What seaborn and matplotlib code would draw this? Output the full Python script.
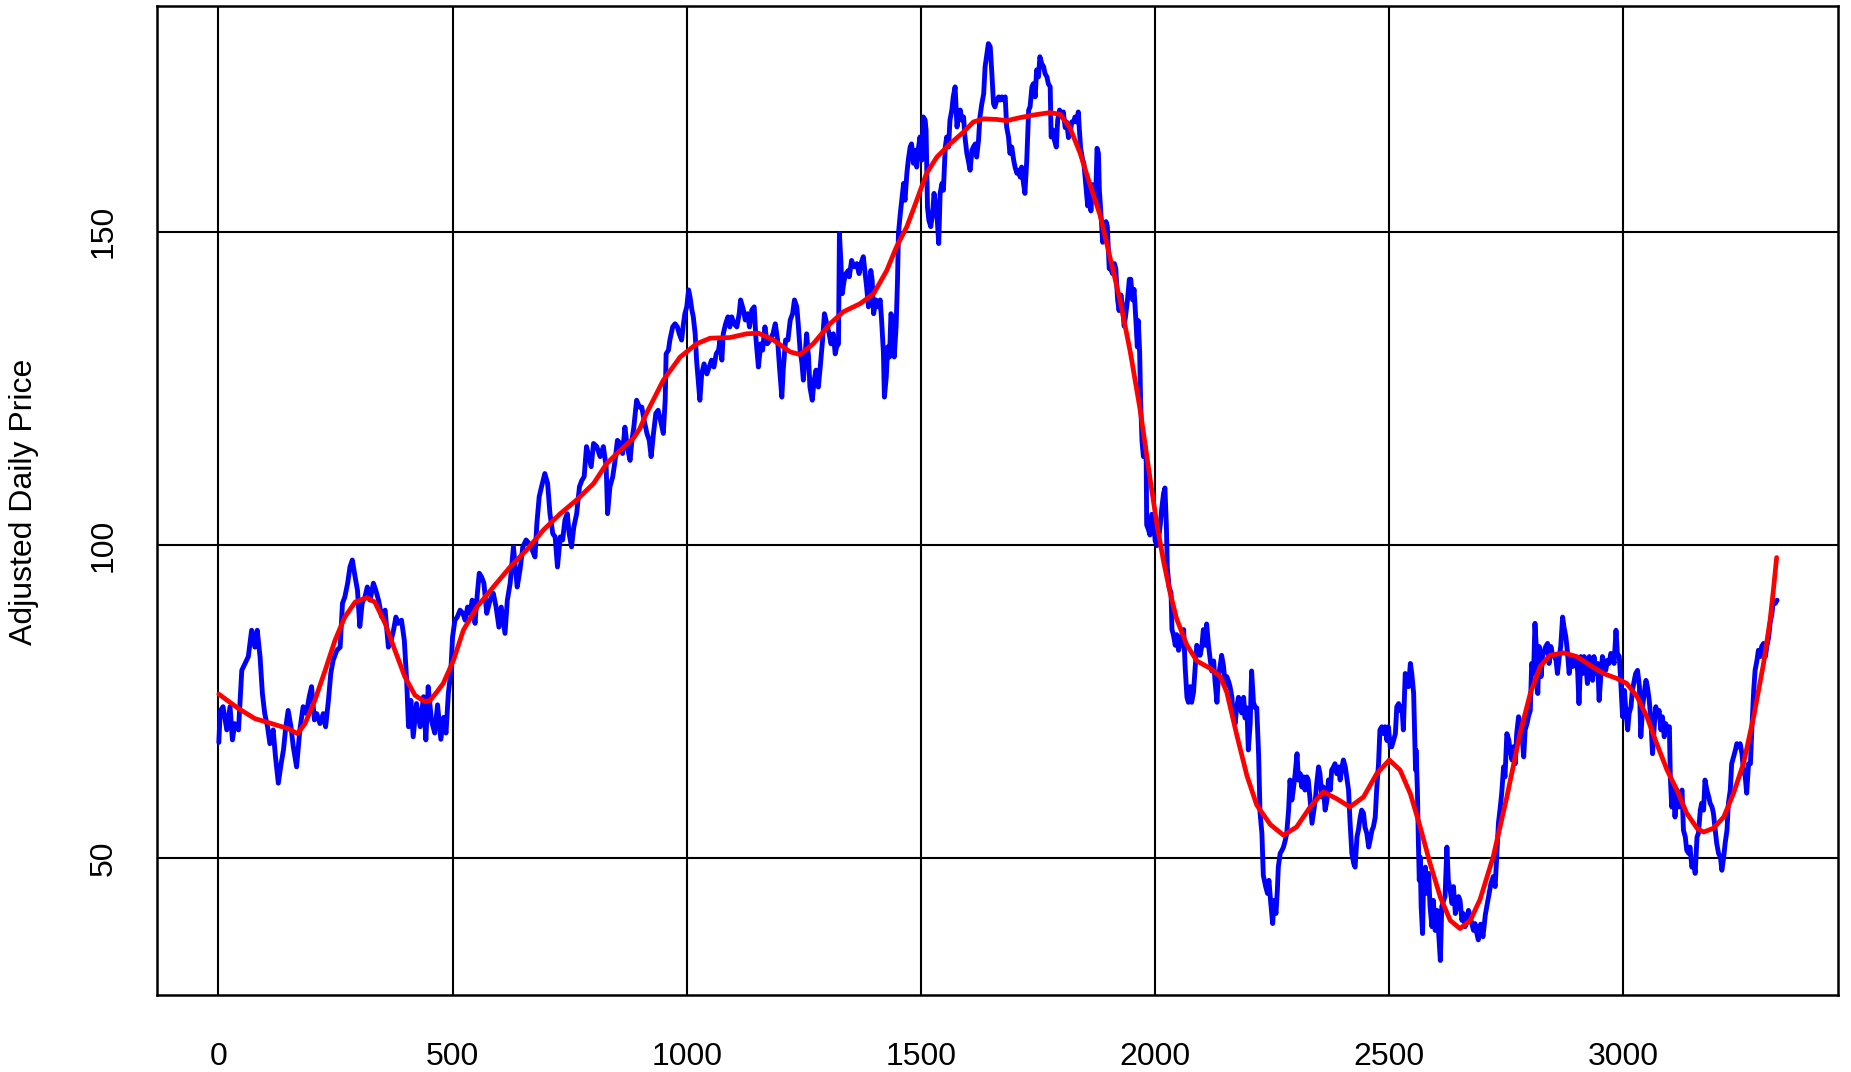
import matplotlib
matplotlib.use("Agg")
import matplotlib.pyplot as plt
import seaborn as sns
import pandas as pd

sns.set_theme(style="white")
plt.rcParams["font.family"] = ["Liberation Sans", "DejaVu Sans"]

# Adjusted daily closing price: (trading day, price)
price_early = [
    (1, 68.5), (4, 73.5), (10, 74.2), (18, 70.5), (25, 74.2), (30, 68.9), (35, 71.5), (43, 70.5),
    (50, 80.0), (57, 81.1), (64, 82.2), (71, 86.4), (78, 83.7), (83, 86.4), (89, 82.2), (94, 76.3),
    (99, 73.1), (105, 71.0), (110, 68.3), (117, 70.5), (122, 66.2), (128, 62.0), (134, 65.1),
    (139, 67.3), (144, 71.0), (149, 73.6), (155, 71.0), (160, 67.8), (167, 64.6), (174, 70.5),
    (181, 74.2), (188, 73.1), (194, 75.8), (199, 77.4), (205, 72.1), (210, 73.1), (217, 71.5),
    (224, 73.1), (229, 71.0), (235, 75.2), (240, 79.5), (245, 81.6), (253, 83.2), (260, 83.7),
    (265, 90.7), (270, 91.7), (276, 93.9), (281, 96.5), (286, 97.6), (292, 94.9), (297, 92.8),
    (302, 87.0), (307, 90.7), (313, 91.7), (318, 93.3), (324, 91.2), (331, 93.9), (336, 92.8),
    (342, 91.2), (349, 88.5), (356, 89.6), (363, 83.7), (369, 84.8), (374, 86.4), (379, 88.5),
    (384, 87.5), (391, 88.0), (397, 84.8), (402, 78.4), (406, 71.0), (411, 75.2), (416, 69.4),
    (423, 74.7), (431, 71.0), (438, 75.8), (443, 68.9), (448, 77.4), (455, 72.0), (462, 70.0),
    (468, 74.5), (475, 69.0), (481, 72.5), (486, 70.0), (491, 76.3), (496, 79.5), (500, 85.3),
    (505, 88.0), (510, 88.5), (516, 89.6), (522, 89.1), (527, 88.0), (532, 90.1), (537, 89.1),
    (542, 91.2), (548, 87.5), (553, 92.3), (557, 95.5), (562, 94.9), (567, 93.9), (573, 89.1),
    (580, 91.2), (587, 92.3), (593, 90.1), (599, 86.9), (604, 90.1), (612, 85.9), (617, 91.2),
    (623, 93.9), (630, 99.7), (634, 96.5), (638, 93.3), (644, 96.0), (650, 99.7), (657, 100.8),
    (664, 100.2), (670, 99.2), (676, 98.1), (680, 103.4), (685, 107.7), (690, 109.3), (697, 111.4),
    (703, 109.8), (708, 105.0), (714, 101.8), (719, 101.3), (724, 96.5), (730, 101.3), (735, 100.8),
    (740, 104.0), (745, 105.0), (749, 101.8), (754, 99.7), (759, 102.9), (765, 105.0), (771, 109.3),
    (776, 110.3), (781, 110.9), (786, 115.7), (791, 114.1), (796, 112.5), (801, 116.2), (808, 115.7),
    (815, 114.1), (822, 115.7), (828, 112.5), (831, 105.0), (836, 109.3), (842, 110.9), (847, 113.5),
    (852, 116.7), (858, 116.2), (863, 114.6), (868, 118.8), (873, 115.7), (879, 113.5), (883, 116.7),
    (887, 118.8), (893, 123.1), (899, 122.0), (904, 122.0), (909, 119.9), (915, 117.8), (920, 116.7),
    (924, 114.1), (929, 117.8), (934, 121.0), (939, 121.5), (944, 119.9), (950, 117.8), (954, 123.1),
    (956, 130.5), (961, 131.1), (964, 132.7), (970, 134.8), (975, 135.3), (980, 134.8), (984, 133.7),
    (989, 132.7), (993, 135.3), (996, 136.9), (1000, 138.0), (1004, 140.7), (1007, 139.6),
    (1011, 137.5), (1014, 136.4), (1018, 133.7), (1021, 129.5), (1025, 125.8), (1028, 123.1),
    (1032, 127.3), (1037, 128.9), (1043, 127.3), (1048, 128.4), (1053, 129.5), (1058, 128.4),
    (1063, 130.5), (1068, 131.1), (1071, 132.7), (1075, 129.5), (1078, 133.7), (1083, 135.3),
    (1088, 136.4), (1092, 134.8), (1096, 136.4), (1101, 135.3), (1107, 134.8), (1112, 136.9),
    (1115, 139.1), (1121, 137.5), (1125, 135.9), (1130, 136.9), (1134, 134.8), (1139, 137.5),
    (1144, 138.0), (1148, 132.7), (1153, 128.4), (1158, 132.1), (1162, 131.1), (1167, 134.8),
    (1172, 132.1), (1178, 132.7), (1184, 133.7), (1189, 135.3), (1194, 132.7), (1198, 128.4),
    (1203, 123.6), (1206, 127.9), (1211, 132.7), (1216, 132.7), (1221, 135.9), (1226, 136.9),
    (1230, 139.1), (1235, 138.0), (1238, 135.3), (1242, 131.1), (1246, 129.0), (1249, 126.3),
    (1253, 130.5), (1256, 133.7), (1260, 130.0), (1263, 125.2), (1268, 123.1), (1272, 126.3),
    (1276, 127.9), (1281, 125.2), (1285, 128.4), (1290, 132.7), (1294, 136.9), (1299, 135.3),
    (1304, 133.7), (1308, 132.1), (1313, 133.7), (1317, 130.5), (1320, 131.6), (1324, 132.1),
    (1326, 149.7), (1329, 145.4), (1332, 140.1), (1336, 142.2), (1340, 143.3), (1345, 143.8),
]

price_peak = [
    (1347, 142.8), (1352, 145.4), (1357, 144.4), (1363, 144.9), (1368, 143.3), (1372, 144.9),
    (1377, 146.0), (1381, 143.3), (1384, 141.2), (1388, 138.0), (1393, 143.8), (1396, 142.2),
    (1399, 136.9), (1404, 139.1), (1409, 138.0), (1413, 139.1), (1416, 135.9), (1420, 130.6),
    (1422, 123.6), (1426, 126.8), (1429, 131.6), (1433, 130.0), (1436, 136.9), (1440, 135.9),
    (1443, 130.0), (1447, 134.8), (1450, 142.2), (1452, 149.7), (1456, 152.9), (1459, 155.0),
    (1463, 157.7), (1466, 155.0), (1470, 159.3), (1473, 161.4), (1477, 163.5), (1480, 164.0),
    (1484, 160.9), (1488, 163.0), (1491, 160.3), (1495, 163.5), (1498, 165.1), (1502, 161.4),
    (1505, 168.3), (1509, 167.8), (1511, 166.2), (1514, 153.9), (1517, 151.8), (1521, 150.8),
    (1525, 152.9), (1528, 156.1), (1532, 153.9), (1535, 151.8), (1538, 148.1), (1541, 156.1),
    (1545, 157.7), (1548, 156.6), (1552, 163.5), (1555, 165.1), (1559, 163.5), (1562, 167.8),
    (1566, 169.4), (1569, 171.5), (1573, 173.1), (1577, 166.7), (1580, 168.3), (1584, 169.4),
    (1587, 167.8), (1591, 168.3), (1594, 165.1), (1598, 162.5), (1601, 161.4), (1605, 159.8),
    (1609, 163.0), (1612, 163.5), (1616, 164.0), (1619, 161.9), (1623, 164.6), (1626, 168.3),
    (1630, 170.4), (1634, 172.0), (1637, 176.3), (1641, 178.4), (1644, 180.0), (1648, 179.5),
    (1651, 175.8), (1655, 170.4), (1658, 169.9), (1662, 171.0), (1666, 171.5), (1669, 171.0),
    (1673, 171.5), (1676, 171.0), (1680, 171.5), (1683, 166.7), (1687, 165.1), (1690, 162.5),
    (1694, 163.5), (1698, 161.4), (1701, 160.3), (1705, 159.3), (1708, 159.8), (1712, 158.7),
    (1715, 160.3), (1719, 157.7), (1722, 156.1), (1726, 161.4), (1730, 169.4), (1733, 169.9),
    (1737, 173.1), (1740, 173.6), (1744, 171.5), (1747, 175.8), (1751, 174.7), (1754, 177.9),
    (1758, 176.8), (1762, 176.3), (1765, 175.2), (1769, 174.7), (1772, 173.6), (1776, 173.1),
    (1778, 165.1), (1782, 166.2), (1785, 164.6), (1789, 163.5), (1792, 167.8), (1796, 169.4),
    (1801, 168.3), (1804, 169.1), (1808, 166.6), (1811, 167.5), (1815, 165.0), (1819, 165.8),
    (1822, 167.5), (1826, 167.5), (1829, 168.3), (1833, 167.5), (1836, 169.1), (1838, 166.6),
    (1841, 163.3), (1845, 161.6), (1848, 160.8), (1852, 157.5), (1856, 154.1), (1859, 157.5),
    (1863, 153.3), (1866, 157.5), (1870, 156.6), (1873, 155.0), (1876, 163.3), (1879, 162.5),
    (1881, 156.6), (1884, 153.3), (1888, 148.3), (1891, 149.1), (1895, 151.6), (1898, 150.8),
    (1902, 144.1), (1905, 144.1), (1909, 143.3), (1913, 144.9), (1916, 144.1), (1920, 139.1),
    (1923, 137.4), (1927, 139.9), (1930, 138.3), (1934, 134.9), (1937, 136.6), (1941, 139.1),
    (1945, 142.4), (1948, 142.4), (1952, 139.1), (1955, 140.8), (1959, 135.8), (1962, 131.6),
    (1964, 135.8), (1967, 130.8), (1969, 123.2), (1972, 116.6), (1975, 114.1), (1979, 115.7),
    (1981, 113.2), (1982, 103.2), (1986, 102.4), (1989, 101.6), (1993, 104.9), (1997, 104.1),
    (2000, 100.7), (2004, 99.9), (2007, 100.7), (2011, 103.2), (2014, 105.7), (2018, 108.2),
    (2021, 109.1), (2024, 103.2), (2026, 96.5), (2030, 93.2), (2034, 92.4),
]

price_late = [
    (2036, 86.5), (2039, 85.7), (2043, 84.0), (2046, 85.7), (2050, 83.2), (2053, 84.0), (2057, 85.7),
    (2061, 86.5), (2064, 80.7), (2068, 75.7), (2071, 74.9), (2075, 77.4), (2078, 74.9), (2082, 76.5),
    (2085, 79.9), (2089, 84.0), (2093, 83.2), (2096, 82.4), (2100, 84.0), (2103, 86.5), (2107, 84.0),
    (2110, 87.4), (2114, 84.0), (2118, 81.5), (2121, 79.9), (2125, 81.5), (2128, 78.2), (2132, 74.9),
    (2135, 79.0), (2139, 80.7), (2142, 82.4), (2146, 80.7), (2150, 77.4), (2153, 79.0), (2157, 78.2),
    (2160, 77.4), (2164, 75.7), (2167, 72.4), (2171, 71.5), (2174, 74.0), (2178, 75.7), (2182, 74.0),
    (2185, 73.2), (2189, 75.7), (2192, 72.4), (2196, 74.0), (2199, 67.3), (2203, 71.5), (2206, 79.9),
    (2210, 74.9), (2214, 74.0), (2217, 74.0), (2221, 66.5), (2224, 57.3), (2228, 54.0), (2231, 47.3),
    (2236, 45.5), (2240, 44.4), (2243, 46.5), (2247, 42.8), (2251, 39.6), (2254, 43.3), (2258, 41.2),
    (2261, 44.9), (2263, 48.6), (2267, 50.8), (2271, 51.3), (2274, 51.8), (2278, 52.9), (2281, 54.0),
    (2285, 57.7), (2288, 62.5), (2292, 59.3), (2295, 60.9), (2299, 63.5), (2303, 66.7), (2306, 62.5),
    (2310, 63.5), (2313, 61.4), (2317, 63.0), (2320, 60.9), (2324, 63.0), (2327, 62.5), (2331, 59.3),
    (2335, 55.6), (2338, 57.2), (2342, 59.3), (2345, 61.9), (2349, 64.6), (2352, 63.5), (2356, 59.8),
    (2359, 61.4), (2363, 57.7), (2367, 59.3), (2370, 62.5), (2374, 60.9), (2377, 64.1), (2381, 64.6),
    (2384, 65.1), (2388, 63.5), (2392, 64.6), (2395, 62.5), (2399, 64.6), (2402, 65.7), (2406, 64.6),
    (2409, 63.0), (2413, 60.9), (2416, 56.1), (2420, 50.8), (2424, 49.2), (2427, 48.6), (2431, 53.4),
    (2434, 54.5), (2438, 56.6), (2441, 57.7), (2445, 57.2), (2448, 55.0), (2452, 54.0), (2456, 51.8),
    (2459, 52.9), (2463, 54.5), (2466, 55.0), (2470, 56.6), (2473, 60.9), (2477, 65.1), (2480, 70.5),
    (2484, 71.0), (2488, 69.9), (2491, 71.0), (2495, 68.8), (2498, 71.0), (2502, 67.8), (2505, 67.8),
    (2509, 68.8), (2513, 69.9), (2516, 74.2), (2520, 74.7), (2523, 73.6), (2527, 74.2), (2530, 70.5),
    (2534, 79.5), (2537, 79.0), (2541, 77.4), (2545, 81.1), (2548, 79.5), (2552, 76.3), (2554, 69.9),
    (2556, 64.1), (2557, 67.3), (2560, 60.9), (2562, 52.9), (2564, 46.5), (2566, 50.2), (2568, 42.3),
    (2571, 38.0), (2573, 45.5), (2577, 48.6), (2580, 44.4), (2584, 47.6), (2587, 42.3), (2591, 39.1),
    (2594, 43.3), (2598, 38.5), (2602, 41.7), (2605, 38.5), (2609, 33.7), (2612, 42.3), (2616, 43.3),
    (2619, 43.9), (2623, 51.8), (2626, 46.5), (2630, 44.9), (2634, 42.8), (2637, 45.5), (2641, 41.2),
    (2644, 42.3), (2648, 43.9), (2651, 43.3), (2655, 40.1), (2658, 41.2), (2662, 39.1), (2666, 40.1),
    (2669, 41.7), (2673, 40.7), (2676, 39.6), (2680, 38.5), (2683, 39.6), (2687, 38.0), (2690, 37.0),
    (2695, 39.5), (2700, 37.5), (2705, 41.0), (2712, 43.9), (2717, 46.0), (2722, 47.1), (2726, 45.5),
    (2730, 51.3), (2733, 55.6), (2737, 58.2), (2740, 60.4), (2744, 64.6), (2747, 63.0), (2751, 69.9),
    (2755, 68.9), (2758, 67.3), (2762, 65.7), (2765, 67.8), (2769, 65.1), (2772, 69.9), (2776, 72.6),
    (2779, 71.5), (2783, 69.9), (2787, 66.2), (2790, 70.5), (2794, 71.5), (2797, 72.6), (2801, 73.6),
    (2804, 81.1), (2808, 79.5), (2811, 87.5), (2815, 82.2), (2817, 76.3), (2820, 83.8), (2824, 79.0),
    (2827, 82.2), (2831, 83.2), (2834, 83.8), (2838, 84.3), (2841, 81.1), (2845, 83.8), (2848, 82.7),
    (2852, 82.2), (2856, 81.6), (2859, 79.5), (2863, 82.2), (2866, 83.8), (2870, 88.5), (2873, 86.9),
    (2877, 85.3), (2880, 83.2), (2884, 79.5), (2888, 82.2), (2891, 80.6), (2895, 82.2), (2898, 81.6),
    (2902, 80.0), (2905, 74.7), (2909, 82.2), (2913, 79.5), (2916, 82.2), (2920, 80.6), (2923, 77.9),
    (2927, 82.2), (2930, 80.6), (2934, 78.4), (2937, 82.2), (2941, 79.5), (2945, 81.1), (2948, 75.2),
    (2952, 79.5), (2955, 82.2), (2959, 81.1), (2962, 80.0), (2966, 81.6), (2969, 81.1), (2973, 82.7),
    (2977, 82.2), (2980, 81.1), (2984, 86.4), (2987, 82.7), (2991, 82.2), (2994, 78.4), (2998, 72.6),
    (3002, 76.8), (3005, 73.6), (3009, 70.5), (3012, 73.1), (3016, 74.2), (3019, 76.8), (3023, 78.4),
    (3026, 79.5), (3030, 80.0), (3034, 77.4), (3037, 69.4), (3041, 74.2), (3044, 76.3), (3048, 78.4),
    (3051, 77.4), (3055, 75.2), (3058, 72.6), (3062, 66.7), (3066, 71.5), (3069, 74.2), (3073, 72.6),
    (3076, 73.6), (3080, 70.5), (3083, 72.6), (3087, 69.4), (3090, 71.5), (3094, 70.5), (3098, 71.0),
    (3100, 63.0), (3103, 58.2), (3107, 60.9), (3110, 56.6), (3114, 60.9), (3118, 58.2), (3121, 59.8),
    (3125, 60.9), (3128, 54.5), (3132, 53.4), (3135, 51.3), (3139, 50.8), (3142, 51.8), (3146, 48.6),
    (3150, 49.7), (3153, 47.6), (3157, 53.4), (3160, 54.0), (3164, 57.7), (3167, 58.8), (3171, 57.7),
    (3174, 62.5), (3178, 60.9), (3182, 59.8), (3185, 58.8), (3189, 58.2), (3192, 57.2), (3196, 54.5),
    (3199, 52.4), (3203, 50.8), (3207, 50.2), (3210, 48.1), (3214, 50.2), (3217, 52.4), (3221, 54.5),
    (3224, 58.8), (3228, 60.9), (3231, 65.1), (3235, 66.2), (3239, 67.3), (3242, 68.3), (3246, 67.8),
    (3249, 68.3), (3253, 66.7), (3256, 64.1), (3260, 63.0), (3263, 60.4), (3267, 65.1), (3271, 65.1),
    (3274, 70.5), (3278, 76.8), (3281, 80.0), (3285, 81.6), (3288, 83.2), (3292, 82.2), (3295, 83.8),
    (3299, 84.3), (3303, 82.2), (3306, 83.8), (3310, 85.3), (3313, 87.5), (3317, 89.1), (3320, 91.2),
    (3324, 90.7), (3328, 91.2),
]

# Smoothed trend of the same series
trend_points = [
    (1, 76.2), (43, 73.9), (78, 72.3), (114, 71.5), (149, 70.7), (169, 69.9), (185, 71.5),
    (206, 75.2), (228, 80.0), (249, 84.8), (270, 88.5), (292, 90.9), (317, 91.6), (334, 90.9),
    (356, 87.5), (377, 83.2), (398, 79.0), (420, 76.0), (441, 75.0), (452, 75.2), (466, 76.5),
    (480, 77.9), (502, 81.6), (523, 86.4), (552, 90.1), (587, 93.3), (623, 96.5), (658, 99.2),
    (694, 102.4), (730, 105.0), (765, 107.2), (801, 109.8), (829, 113.0), (858, 115.1), (886, 117.0),
    (900, 118.6), (914, 121.0), (950, 126.3), (986, 130.0), (1021, 132.1), (1050, 133.0),
    (1092, 133.1), (1128, 133.7), (1153, 133.8), (1185, 132.7), (1221, 130.8), (1242, 130.4),
    (1270, 132.1), (1306, 135.3), (1334, 137.2), (1370, 138.5), (1399, 140.1), (1427, 143.8),
    (1448, 147.6), (1470, 150.8), (1491, 155.0), (1512, 159.3), (1534, 161.9), (1562, 164.0),
    (1591, 165.9), (1612, 167.5), (1634, 168.0), (1662, 167.9), (1683, 167.7), (1712, 168.2),
    (1740, 168.6), (1776, 169.0), (1797, 168.7), (1818, 166.6), (1840, 162.5), (1861, 157.5),
    (1883, 152.5), (1904, 145.8), (1925, 139.1), (1947, 130.8), (1968, 121.6), (1989, 110.7),
    (2004, 103.2), (2018, 97.4), (2032, 92.4), (2046, 88.2), (2068, 84.0), (2089, 81.5),
    (2118, 80.3), (2139, 79.0), (2153, 76.5), (2174, 69.8), (2196, 63.2), (2217, 58.5),
    (2246, 55.4), (2274, 53.7), (2302, 55.0), (2331, 58.2), (2359, 60.6), (2388, 59.5),
    (2416, 58.2), (2445, 59.8), (2473, 63.5), (2500, 65.7), (2523, 64.1), (2545, 60.3),
    (2566, 55.0), (2587, 49.2), (2609, 43.8), (2630, 40.1), (2651, 38.8), (2673, 40.1),
    (2694, 43.5), (2722, 50.3), (2751, 59.8), (2779, 69.9), (2801, 76.3), (2822, 80.6),
    (2843, 82.4), (2872, 82.8), (2900, 82.2), (2929, 80.8), (2957, 79.5), (2986, 78.7),
    (3007, 77.9), (3029, 75.8), (3050, 72.6), (3071, 68.3), (3093, 64.1), (3114, 60.9),
    (3135, 57.2), (3157, 54.8), (3171, 54.2), (3192, 54.8), (3214, 56.6), (3235, 60.4),
    (3256, 65.1), (3278, 72.6), (3299, 81.1), (3313, 88.0), (3320, 92.8), (3327, 98.0),
]

x_ticks = [0, 500, 1000, 1500, 2000, 2500, 3000]
y_ticks = [50, 100, 150]
y_title = "Adjusted Daily Price"

price = pd.DataFrame(price_early + price_peak + price_late, columns=["day", "price"])
trend = pd.DataFrame(trend_points, columns=["day", "price"])

W, H = 1851, 1072
fig = plt.figure(figsize=(W / 100, H / 100), dpi=100)
ax = fig.add_axes([157 / W, 1 - 995 / H, (1838 - 157) / W, (995 - 6) / H])

sns.lineplot(data=price, x="day", y="price", color="#0000FF", linewidth=3.5,
             sort=False, estimator=None, ax=ax, zorder=3)
sns.lineplot(data=trend, x="day", y="price", color="#FF0000", linewidth=3.4,
             sort=False, estimator=None, ax=ax, zorder=4)
for line in ax.lines:
    line.set_solid_joinstyle("round")

ax.set_xlim(-131, 3458)
ax.set_ylim(28.2, 186.0)
ax.set_xticks(x_ticks)
ax.set_yticks(y_ticks)
ax.set_xticklabels([str(t) for t in x_ticks])
ax.set_yticklabels([str(t) for t in y_ticks], rotation=90, va="center")
ax.tick_params(axis="both", length=0, labelsize=23, colors="black")
ax.tick_params(axis="x", pad=34)
ax.tick_params(axis="y", pad=27.5)

ax.grid(True, color="black", linewidth=1.5, zorder=1)
ax.set_axisbelow(True)
for sp in ax.spines.values():
    sp.set_color("black")
    sp.set_linewidth(1.8)

ax.set_xlabel("")
ax.set_ylabel("")
fig.text(24 / W, 1 - 502 / H, y_title, rotation=90, ha="center", va="center",
         fontsize=23, color="black")

fig.savefig("out.png", dpi=100, facecolor="white")
